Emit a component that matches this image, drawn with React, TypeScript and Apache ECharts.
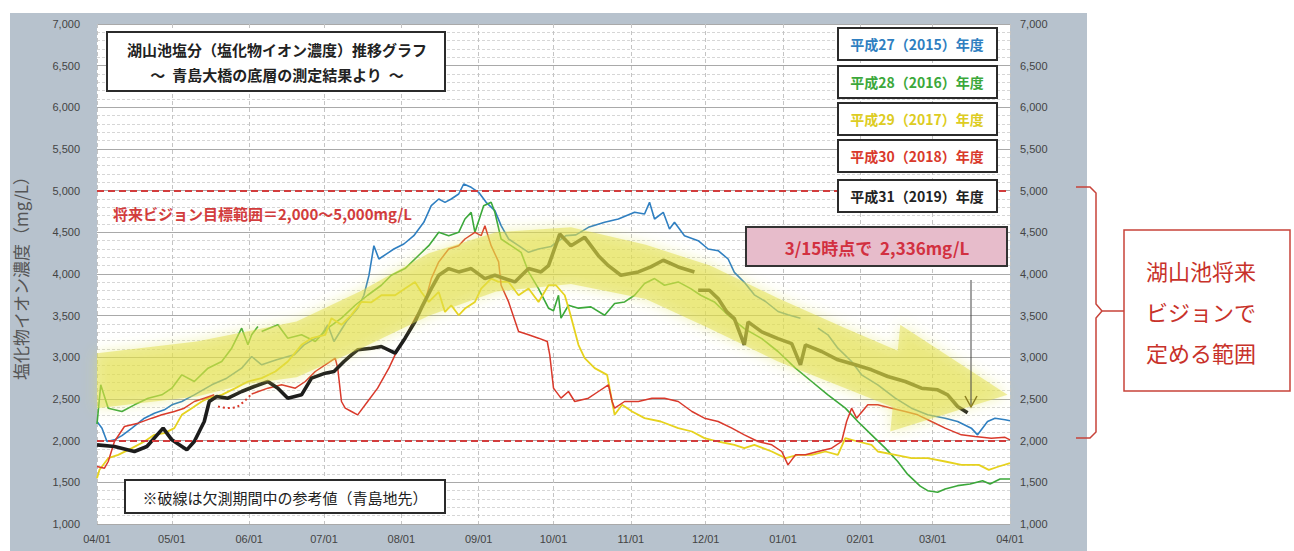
import React, { useEffect, useRef } from 'react';
import * as echarts from 'echarts';

// ---- axis ticks (day offset from 04/01) ----
const monthTickDays = [0, 30, 61, 91, 122, 153, 183, 214, 244, 275, 306, 335, 366];
const monthTickLabels = ['04/01', '05/01', '06/01', '07/01', '08/01', '09/01', '10/01', '11/01', '12/01', '01/01', '02/01', '03/01', '04/01'];
const yMin = 1000;
const yMax = 7000;
const yStep = 500;

// ---- target range ----
const goalLow = 2000;
const goalHigh = 5000;

// ---- series: [day offset, mg/L] ----
const fy2015 = [
  [0, 2230], [2, 2150], [4, 1990], [7, 2010], [10, 2060], [14, 2150], [19, 2270], [23, 2330], [27, 2370], [30, 2430],
  [34, 2470], [36.5, 2510], [39, 2550], [46, 2670], [52, 2750], [58, 2870], [62, 3010], [66, 2910], [72, 2970], [79, 3030],
  [83, 3150], [90, 3270], [92.5, 3390], [95, 3190], [100, 3430], [104.5, 3590], [107, 3745], [109, 3980], [111, 4340], [113, 4180],
  [117, 4260], [119, 4300], [123, 4360], [127, 4460], [131, 4620], [134, 4820], [137, 4900], [139.5, 4860], [142, 4900], [145, 4960],
  [147, 5080], [150, 5040], [153, 4980], [156, 4860], [159.5, 4760], [162, 4580], [165, 4420], [169, 4340], [173, 4260], [177, 4300],
  [182, 4330], [188, 4460], [192, 4470], [197, 4560], [203.5, 4620], [209, 4660], [215.5, 4740], [219.5, 4720], [221.5, 4860], [223.5, 4660],
  [227, 4740], [229.5, 4540], [231.5, 4620], [235.5, 4460], [241, 4400], [245, 4300], [249, 4280], [253, 4180], [255.5, 4020], [259.5, 3900],
  [263.5, 3750], [268, 3670], [273, 3550], [277, 3510], [282, 3470], [284, null], [289, 3350], [293, 3270], [297, 3110], [302.5, 2950],
  [306.5, 2790], [313, 2670], [320, 2510], [326.5, 2390], [333, 2310], [340, 2270], [345, 2230], [350.5, 2150], [353, 2070], [357, 2230],
  [360, 2270], [364, 2250], [366, 2240]
];

const fy2016 = [
  [0, 2200], [1.5, 2670], [4.5, 2390], [10, 2350], [15, 2430], [20.5, 2510], [26, 2550], [30, 2630], [34, 2790], [39, 2710],
  [44.5, 2870], [50, 2950], [54, 3110], [58, 3350], [60.5, 3150], [62, 3270], [64.5, 3370], [65, null], [66, 3310], [72.5, 3390],
  [76.5, 3230], [82, 3270], [87.5, 3190], [92.5, 3350], [98, 3470], [103.5, 3625], [108.5, 3745], [114, 3865], [118, 3985], [123.5, 4065],
  [129, 4225], [133, 4340], [137, 4500], [141, 4460], [145, 4500], [147.5, 4660], [150, 4740], [151.5, 4500], [155, 4820], [158, 4860],
  [159.5, 4740], [162, 4420], [166, 4340], [170, 4260], [173, 4025], [177, 3825], [181, 3590], [183, 3560], [185, 3745], [186, 3470],
  [189, 3625], [193, 3590], [198, 3605], [203.5, 3505], [207.5, 3645], [211.5, 3665], [215.5, 3745], [219.5, 3885], [223.5, 3945], [227.5, 3865],
  [233, 3905], [238, 3825], [242, 3745], [247.5, 3665], [253, 3505], [259.5, 3345], [266.5, 3225], [273, 3070], [280, 2870], [286.5, 2710],
  [293, 2550], [300, 2390], [305, 2230], [310.5, 2070], [316, 1910], [321, 1750], [325, 1595], [330, 1455], [333, 1400], [337, 1380],
  [340, 1420], [345, 1460], [350, 1480], [355, 1520], [358, 1480], [362, 1540], [366, 1540]
];

const fy2017 = [
  [0, 1550], [1, 1650], [4.5, 1790], [8.5, 1830], [14, 1910], [19, 1990], [23, 2070], [27, 2090], [31, 2150], [34, 2310],
  [38, 2390], [42, 2470], [44.5, 2510], [50, 2550], [55.5, 2630], [60.5, 2710], [66, 2750], [71.5, 2830], [76.5, 2950], [82, 3150],
  [86, 3230], [91.5, 3270], [94, 3470], [98, 3390], [102, 3510], [106, 3665], [110, 3660], [114, 3745], [119.5, 3745], [123.5, 3825],
  [127.5, 3905], [130, 3785], [133, 3665], [137, 3785], [139.5, 3545], [142, 3625], [145, 3505], [147.5, 3585], [151.5, 3665], [154, 3825],
  [158, 3945], [161, 3905], [165, 3905], [169, 3745], [173, 3825], [177, 3665], [181, 3865], [184, 3865], [187.5, 3745], [189.5, 3545],
  [193, 3150], [195.5, 2990], [199.5, 2870], [204.5, 2790], [206.5, 2470], [207.5, 2310], [210.5, 2430], [214.5, 2350], [219.5, 2270], [226, 2230],
  [233, 2150], [238.5, 2110], [243.5, 2030], [249, 1990], [255.5, 1950], [259.5, 1910], [263.5, 1950], [270.5, 1870], [276, 1790], [281, 1830],
  [286.5, 1830], [292, 1870], [297, 1830], [300, 2030], [305, 1990], [310.5, 1950], [313, 1870], [320, 1830], [326.5, 1790], [333, 1790],
  [340, 1750], [346.5, 1710], [353.5, 1710], [357.5, 1650], [361.5, 1690], [366, 1730]
];

const fy2018 = [
  [0, 1690], [3, 1670], [4.5, 1750], [7, 1990], [11, 2170], [16.5, 2210], [22, 2270], [26, 2310], [31, 2350], [35, 2390],
  [39, 2470], [43, 2510], [47, 2550], [48, null], [62, 2560], [68.5, 2630], [74, 2670], [79.5, 2630], [83.5, 2710], [87.5, 2830],
  [91.5, 2910], [95.5, 2990], [96.5, 2870], [98, 2470], [99.5, 2390], [102, 2350], [104.5, 2310], [108.5, 2470], [112.5, 2630], [117, 2870],
  [119.5, 3030], [123.5, 3230], [127.5, 3470], [131.5, 3665], [134, 3945], [137, 4145], [141, 4300], [145, 4340], [147.5, 4420], [151.5, 4500],
  [154, 4460], [155.5, 4580], [158, 4340], [161, 4145], [162, 3865], [165, 3665], [169, 3310], [173, 3270], [177, 3230], [180.5, 3190],
  [181.5, 3030], [183, 2630], [186, 2510], [189, 2590], [191.5, 2470], [197, 2510], [201, 2590], [205, 2670], [206.5, 2470], [207.5, 2390],
  [211.5, 2470], [217, 2470], [222.5, 2510], [227.5, 2510], [233, 2470], [238.5, 2350], [243.5, 2270], [249, 2230], [254.5, 2150], [259.5, 2070],
  [265, 1990], [270.5, 1950], [274.5, 1870], [277, 1710], [280, 1830], [284, 1830], [289, 1870], [294.5, 1910], [298.5, 1990], [300.5, 2230],
  [302.5, 2390], [304.5, 2270], [309, 2430], [313, 2430], [318.5, 2390], [324, 2350], [329, 2310], [334.5, 2230], [340, 2150], [346.5, 2070],
  [352, 2050], [358.5, 2030], [364, 2040], [366, 2010]
];

// reference values during the missing-measurement period (dotted)
const fy2018Reference = [[48.5, 2410], [52, 2390], [56, 2400], [59, 2470], [62, 2560]];

const fy2019 = [
  [0, 1950], [7, 1930], [15, 1870], [20, 1930], [26.5, 2150], [30, 2010], [36, 1890], [39, 1990], [43, 2230], [45, 2470],
  [48, 2530], [52.5, 2510], [58, 2590], [63, 2650], [68.5, 2710], [72.5, 2630], [76.5, 2510], [82, 2550], [86, 2750], [91.5, 2810],
  [95, 2830], [99, 2950], [102, 3030], [104.5, 3090], [110, 3110], [114, 3130], [119.5, 3050], [123.5, 3230], [127.5, 3430], [130, 3590],
  [134, 3825], [137, 3985], [141, 4065], [145, 4025], [150, 4065], [155.5, 3945], [159.5, 3985], [167.5, 3905], [173, 4065], [178, 4025],
  [181, 4100], [185.5, 4480], [190, 4340], [195.5, 4440], [201, 4220], [205, 4100], [210, 3985], [217, 4025], [222, 4085], [227, 4165],
  [233, 4085], [239.5, 4025], [240.5, null], [241, 3805], [245.5, 3805], [249, 3705], [252.5, 3545], [255.5, 3465], [259.5, 3150], [261, 3425],
  [266.5, 3305], [273, 3225], [278.5, 3165], [282, 2910], [284, 3150], [290.5, 3070], [297, 2970], [304, 2910], [310.5, 2850], [317, 2770],
  [324, 2710], [330.5, 2630], [337, 2610], [341, 2550], [345, 2410], [349, 2336]
];

// ---- highlighted trend band (arrow) ----
const bandUpper = [[0, 3050], [40, 3190], [80, 3430], [106, 3800], [133, 4250], [160, 4500], [190, 4560], [220, 4350], [246, 4100], [273, 3710], [300, 3350], [321, 3080]];
const bandHead = [[322, 3390], [365, 2550], [318, 2110]];
const bandLower = [[319, 2400], [300, 2630], [273, 2950], [246, 3340], [220, 3700], [190, 3880], [160, 3790], [133, 3500], [106, 3110], [80, 2760], [60, 2680], [40, 2530], [0, 2390]];

const legendNames = ['平成27（2015）年度', '平成28（2016）年度', '平成29（2017）年度', '平成30（2018）年度', '平成31（2019）年度'];
const colors = ['#2f7fc1', '#3ba83a', '#e6d21e', '#d9392b', '#1c1c1c'];
const legendTextColors = ['#2f7fc1', '#3ba83a', '#ddcc22', '#d9392b', '#222222'];

const CJK = '"Noto Sans CJK JP", sans-serif';
const NUM = '"Liberation Sans", sans-serif';

export default function App() {
  const ref = useRef<HTMLDivElement>(null);

  useEffect(() => {
    if (!ref.current) return;
    const chart = echarts.init(ref.current, null, { renderer: 'svg' });
    const bandOutline = [...bandUpper, ...bandHead, ...bandLower];

    const lineSeries = (name: string, data: any[], color: string, width: number, z: number, type: any = 'solid') => ({
      name,
      type: 'line',
      data,
      showSymbol: false,
      symbol: 'none',
      connectNulls: false,
      z,
      lineStyle: { color, width, type },
      itemStyle: { color },
      silent: true,
    });

    const legendGraphics: any[] = [];
    const legendY = [28, 66, 103, 140, 180];
    legendNames.forEach((n, i) => {
      legendGraphics.push({
        type: 'rect', z: 100, shape: { x: 838, y: legendY[i], width: 159, height: 32 },
        style: { fill: '#fff', stroke: '#2b2b2b', lineWidth: 2 },
      });
      legendGraphics.push({
        type: 'text', z: 101, x: 917, y: legendY[i] + 16,
        style: { text: n, fill: legendTextColors[i], font: `bold 14px ${CJK}`, align: 'center', verticalAlign: 'middle' },
      });
    });

    const option: any = {
      animation: false,
      grid: { left: 97, right: 284, top: 24, bottom: 27, show: true, backgroundColor: '#ffffff', borderWidth: 0 },
      xAxis: {
        type: 'value', min: 0, max: 366,
        axisLine: { show: false },
        axisTick: { show: false, customValues: monthTickDays },
        axisLabel: {
          customValues: monthTickDays, showMinLabel: true, showMaxLabel: true, hideOverlap: false,
          formatter: (v: number) => { const i = monthTickDays.indexOf(v); return i >= 0 ? monthTickLabels[i] : ''; },
          color: '#444', fontSize: 11, margin: 9, fontFamily: NUM,
        },
        splitLine: { show: true, lineStyle: { color: '#c4c4c4', type: [4, 3], width: 1 } },
      },
      yAxis: [
        {
          type: 'value', min: yMin, max: yMax, interval: yStep, position: 'left',
          name: '塩化物イオン濃度（mg/L）', nameLocation: 'middle', nameGap: 68,
          nameTextStyle: { fontSize: 17, color: '#555', fontFamily: CJK },
          axisLine: { show: false }, axisTick: { show: false },
          axisLabel: { formatter: (v: number) => v.toLocaleString('en-US'), color: '#444', fontSize: 11, margin: 17, fontFamily: NUM },
          splitLine: { show: true, lineStyle: { color: '#a9a9a9', width: 1 } },
          minorTick: { show: false, splitNumber: 5 },
          minorSplitLine: { show: true, lineStyle: { color: '#d6d6d6', type: [3, 2], width: 1 } },
        },
        {
          type: 'value', min: yMin, max: yMax, interval: yStep, position: 'right',
          axisLine: { show: false }, axisTick: { show: false },
          axisLabel: { formatter: (v: number) => v.toLocaleString('en-US'), color: '#444', fontSize: 11, margin: 10, fontFamily: NUM },
          splitLine: { show: false },
        },
      ],
      series: [
        {
          ...lineSeries(legendNames[0], fy2015, colors[0], 1.6, 3),
          markLine: {
            silent: true, symbol: 'none', label: { show: false },
            lineStyle: { color: '#d23c3c', type: [7, 4], width: 1.8 },
            data: [{ yAxis: goalHigh }, { yAxis: goalLow }],
          },
        },
        lineSeries(legendNames[1], fy2016, colors[1], 1.6, 3),
        lineSeries(legendNames[2], fy2017, colors[2], 1.8, 3),
        lineSeries(legendNames[3], fy2018, colors[3], 1.5, 3),
        lineSeries(legendNames[3] + '参考値', fy2018Reference, colors[3], 2, 3, [2, 3]),
        lineSeries(legendNames[4], fy2019, colors[4], 3.6, 4),
        {
          type: 'custom', name: 'band', z: 10, silent: true, clip: false,
          data: [[183, 4000]],
          renderItem: (_p: any, api: any) => {
            const pts = bandOutline.map((p) => api.coord(p));
            return {
              type: 'polygon',
              shape: { points: pts },
              style: { fill: 'rgba(226,222,70,0.48)', shadowBlur: 14, shadowColor: 'rgba(225,228,80,0.85)' },
            };
          },
        },
      ],
      graphic: [
        // title box
        { type: 'rect', z: 100, shape: { x: 107, y: 32, width: 338, height: 59 }, style: { fill: '#fff', stroke: '#2b2b2b', lineWidth: 2 } },
        { type: 'text', z: 101, x: 277, y: 49, style: { text: '湖山池塩分（塩化物イオン濃度）推移グラフ', fill: '#222', font: `bold 15px ${CJK}`, align: 'center', verticalAlign: 'middle' } },
        { type: 'text', z: 101, x: 277, y: 74, style: { text: '～  青島大橋の底層の測定結果より  ～', fill: '#222', font: `bold 15px ${CJK}`, align: 'center', verticalAlign: 'middle' } },
        // goal label
        { type: 'text', z: 101, x: 113, y: 213, style: { text: '将来ビジョン目標範囲＝2,000～5,000mg/L', fill: '#d23c3c', font: `bold 15px ${CJK}`, align: 'left', verticalAlign: 'middle' } },
        // note box
        { type: 'rect', z: 100, shape: { x: 125, y: 480, width: 320, height: 33 }, style: { fill: '#fff', stroke: '#2b2b2b', lineWidth: 2 } },
        { type: 'text', z: 101, x: 285, y: 497, style: { text: '※破線は欠測期間中の参考値（青島地先）', fill: '#222', font: `15px ${CJK}`, align: 'center', verticalAlign: 'middle' } },
        // legend boxes
        ...legendGraphics,
        // callout
        { type: 'rect', z: 100, shape: { x: 746, y: 227, width: 261, height: 39 }, style: { fill: '#e7bccb', stroke: '#333', lineWidth: 2 } },
        { type: 'text', z: 101, x: 877, y: 247, style: { text: '3/15時点で  2,336mg/L', fill: '#d23040', font: `bold 17px ${CJK}`, align: 'center', verticalAlign: 'middle' } },
        // arrow
        { type: 'line', z: 100, shape: { x1: 971, y1: 280, x2: 971, y2: 405 }, style: { stroke: '#444', lineWidth: 1 } },
        { type: 'polyline', z: 100, shape: { points: [[965, 396], [971, 407], [977, 396]] }, style: { stroke: '#8a7d20', lineWidth: 1.5, fill: null } },
        // bracket
        { type: 'polyline', z: 100, shape: { points: [[1076, 187], [1090, 187], [1096, 193], [1096, 304], [1102, 311], [1124, 311]] }, style: { stroke: '#c8433a', lineWidth: 1.5, fill: null } },
        { type: 'polyline', z: 100, shape: { points: [[1102, 311], [1096, 318], [1096, 432], [1090, 438], [1076, 438]] }, style: { stroke: '#c8433a', lineWidth: 1.5, fill: null } },
        // range box
        { type: 'rect', z: 100, shape: { x: 1124, y: 230, width: 166, height: 161 }, style: { fill: '#fff', stroke: '#c8433a', lineWidth: 1.5 } },
        { type: 'text', z: 101, x: 1146, y: 270, style: { text: '湖山池将来', fill: '#c8322a', font: `22px ${CJK}`, align: 'left', verticalAlign: 'middle' } },
        { type: 'text', z: 101, x: 1146, y: 311, style: { text: 'ビジョンで', fill: '#c8322a', font: `22px ${CJK}`, align: 'left', verticalAlign: 'middle' } },
        { type: 'text', z: 101, x: 1146, y: 352, style: { text: '定める範囲', fill: '#c8322a', font: `22px ${CJK}`, align: 'left', verticalAlign: 'middle' } },
      ],
    };

    chart.setOption(option);
    return () => chart.dispose();
  }, []);

  return (
    <div style={{ position: 'fixed', left: 0, top: 0, width: 1294, height: 551, background: '#fff' }}>
      <div style={{ position: 'absolute', left: 10, top: 13, width: 1077, height: 538, background: '#b7c2cd' }} />
      <div ref={ref} style={{ position: 'absolute', left: 0, top: 0, width: 1294, height: 551 }} />
    </div>
  );
}
